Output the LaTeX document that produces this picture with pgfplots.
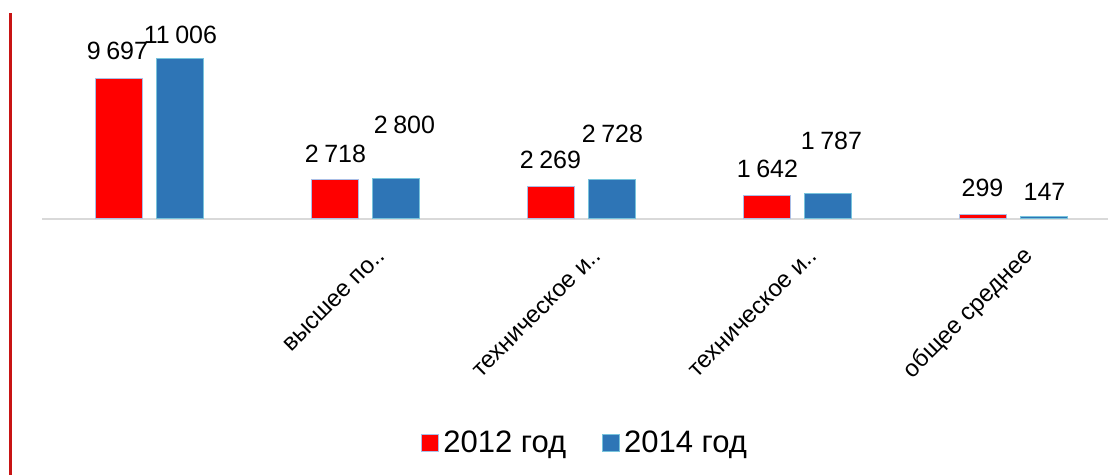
\documentclass[border=0pt]{standalone}
\usepackage{pgfplots}
\pgfplotsset{compat=1.18}
\usepackage{pgfplotstable}
\usepackage{fontspec}
\setmainfont{Liberation Sans}

\definecolor{barred}{RGB}{255,0,0}
\definecolor{rededge}{RGB}{170,190,230}
\definecolor{barblue}{RGB}{46,117,182}
\definecolor{blueedge}{RGB}{120,195,220}
\definecolor{basegray}{RGB}{217,217,217}
\definecolor{sideline}{RGB}{200,20,20}

% x, value, label offsets (pt)
\pgfplotstableread{
x y dy dx
0 9697 13.5 -1
1 2718 13 0
2 2269 13 -0.5
3 1642 13 0
4 299 13.5 -0.5
}\dataA
\pgfplotstableread{
x y dy dx
0 11006 12 0
1 2800 26.5 4
2 2728 22.5 0
3 1787 26 1.5
4 147 12.25 0
}\dataB

\begin{document}
\begin{tikzpicture}
\path[use as bounding box] (0,0) rectangle (554pt,237.5pt);
\draw[sideline, line width=1.5pt] (5.25pt,0) -- (5.25pt,231pt);
\begin{axis}[
  at={(21pt,128pt)}, anchor=south west,
  width=533.5pt, height=109.05pt, scale only axis,
  xmin=-0.5, xmax=4.44, ymin=0, ymax=15000,
  axis x line*=bottom, axis y line=none,
  x axis line style={draw=basegray, line width=0.6pt},
  xtick={0,1,2,3,4},
  xticklabels={,высшее по..,техническое и..,техническое и..,общее среднее},
  major tick length=0pt,
  xticklabel style={rotate=45, anchor=east, font=\fontsize{12}{14}\selectfont, xshift=-3pt, yshift=-17.5pt},
  ybar=7pt, bar width=23.5pt,
  clip=false,
  legend style={at={(0.51,-1.027)}, anchor=center, draw=none, fill=none,
    legend columns=2, font=\fontsize{15.5}{18}\selectfont,
    /tikz/every even column/.append style={column sep=16pt}},
  legend image code/.code={\draw[#1, line width=0.5pt] (0pt,-4.25pt) rectangle (8.5pt,4.25pt);},
]
\pgfplotsset{
  labelled/.style={
    nodes near coords,
    visualization depends on={\thisrow{dy} \as \labdy},
    visualization depends on={\thisrow{dx} \as \labdx},
    every node near coord/.append style={anchor=center, yshift=\labdy, xshift=\labdx,
      font=\fontsize{12.5}{14}\selectfont, text=black,
      /pgf/number format/1000 sep={\hspace{0.22em}}, /pgf/number format/assume math mode=true},
  },
}
\addplot[fill=barred, draw=rededge, line width=0.5pt, labelled] table[x=x, y=y]{\dataA};
\addplot[fill=barblue, draw=blueedge, line width=0.5pt, labelled] table[x=x, y=y]{\dataB};
\legend{2012 год, 2014 год}
\end{axis}
\end{tikzpicture}
\end{document}
